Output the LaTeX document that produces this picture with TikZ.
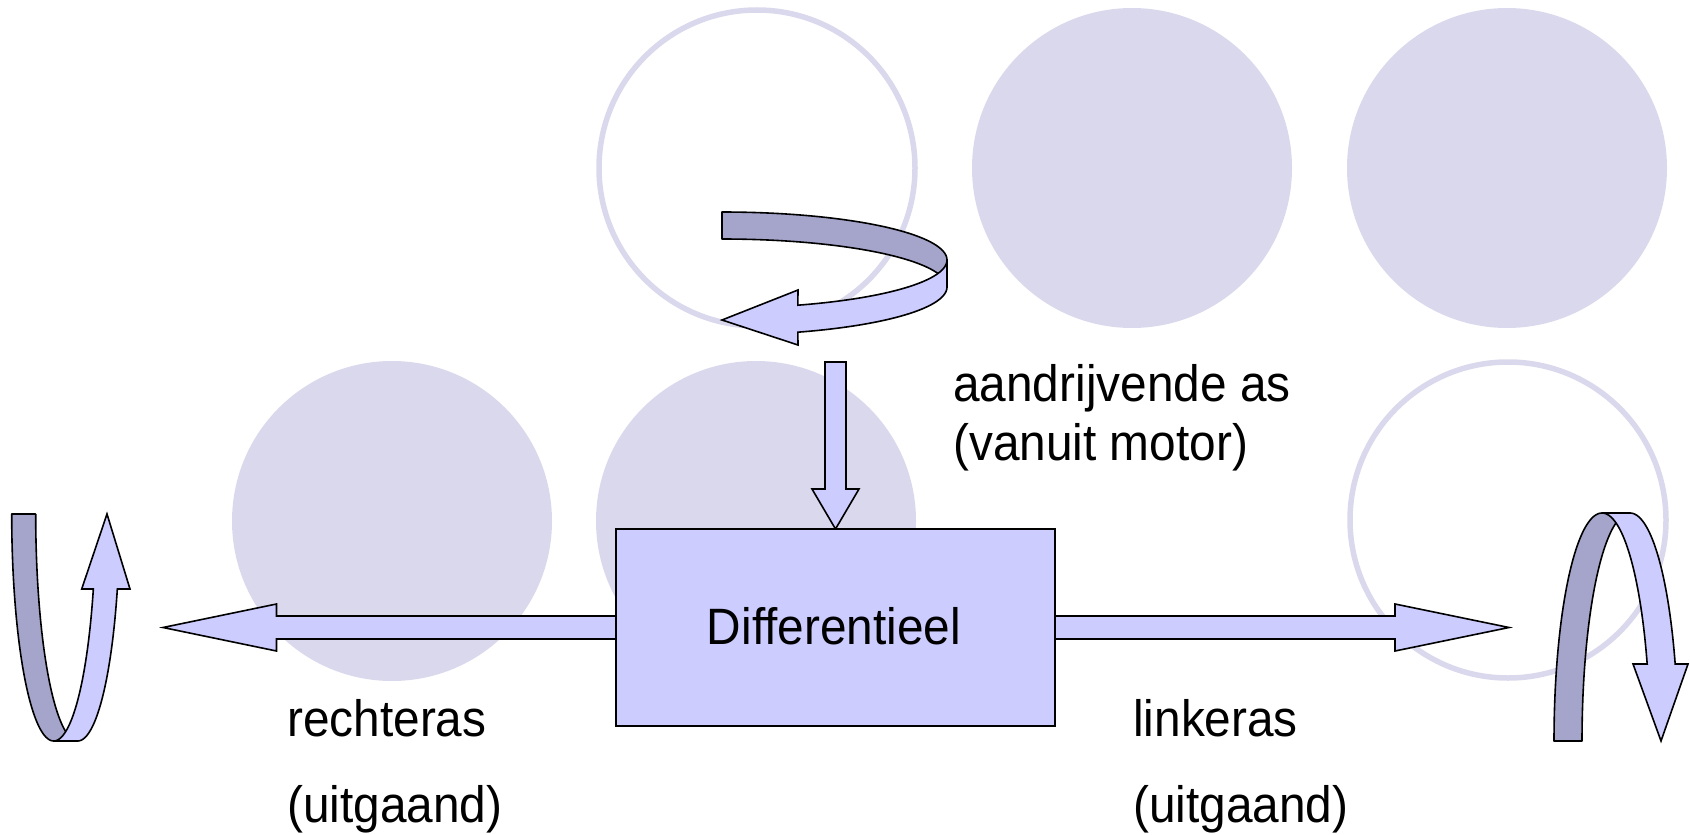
\documentclass[tikz,border=0pt]{standalone}
\usepackage{fontspec}
\usepackage{graphicx}
\setmainfont{Liberation Sans}
\usetikzlibrary{calc}
\definecolor{circfill}{RGB}{218,216,236}
\definecolor{lightband}{RGB}{204,204,255}
\definecolor{darkband}{RGB}{165,165,204}
\newcommand\tallText[1]{\scalebox{1}[1.07]{#1}}
\begin{document}
\begin{tikzpicture}[x=1pt,y=-1pt,
  filledc/.style={fill=circfill},
  ringc/.style={draw=circfill,line width=5.5pt},
  block/.style={fill=lightband,draw=black,line width=1.6pt,line join=miter},
  backband/.style={fill=darkband,draw=black,line width=1.6pt,line join=round},
  frontband/.style={fill=lightband,draw=black,line width=1.6pt,line join=miter},
  lbl/.style={font=\fontsize{47.8}{56}\selectfont,inner sep=0pt,anchor=base west}]
\useasboundingbox (0,0) rectangle (1690,835);
% background circles
\path[ringc] (757,168) circle[radius=158pt];
\path[filledc] (1132,168) circle[radius=160pt];
\path[filledc] (1507,168) circle[radius=160pt];
\path[filledc] (392,521) circle[radius=160pt];
\path[filledc] (756,521) circle[radius=160pt];
\path[ringc] (1508,520) circle[radius=158pt];
% top curved arrow (drive shaft rotation)
\draw[backband] plot[domain=90:0,samples=50] ({722+225*cos(\x)},{260-48*sin(\x)})
  -- (947,287) -- plot[domain=0:90,samples=50] ({722+225*cos(\x)},{287-48*sin(\x)}) -- cycle;
\draw[frontband] plot[domain=0:-70.3,samples=50] ({722+225*cos(\x)},{260-48*sin(\x)})
  -- (798,290) -- (722,320) -- (798,345)
  -- plot[domain=-70.3:0,samples=50] ({722+225*cos(\x)},{287-48*sin(\x)}) -- cycle;
% left curved arrow
\draw[backband] plot[domain=180:90,samples=50] ({53.7+42*cos(\x)},{514+227*sin(\x)})
  -- plot[domain=90:180,samples=50] ({77.7+42*cos(\x)},{514+227*sin(\x)}) -- cycle;
\draw[frontband] plot[domain=90:19.3,samples=50] ({53.7+42*cos(\x)},{514+227*sin(\x)})
  -- (81.7,589) -- (107,514) -- (130,589)
  -- plot[domain=19.3:90,samples=50] ({77.7+42*cos(\x)},{514+227*sin(\x)}) -- cycle;
% right curved arrow
\draw[backband] plot[domain=180:90,samples=50] ({1602+48*cos(\x)},{741-228*sin(\x)})
  -- plot[domain=90:180,samples=50] ({1630+48*cos(\x)},{741-228*sin(\x)}) -- cycle;
\draw[frontband] plot[domain=90:19.74,samples=50] ({1602+48*cos(\x)},{741-228*sin(\x)})
  -- (1633,664) -- (1661,741) -- (1688,664)
  -- plot[domain=19.74:90,samples=50] ({1630+48*cos(\x)},{741-228*sin(\x)}) -- cycle;
% reference coordinates
\path (835.5,627.5) coordinate (dc);
\coordinate (ltip) at (163,627.5);
\coordinate (rtip) at (1509,627.5);
\coordinate (dtop) at (835.5,362);
% block arrows
\draw[block] (616,616) -- (276.5,616) -- (276.5,604) -- (ltip) -- (276.5,651) -- (276.5,639) -- (616,639);
\draw[block] (1055,616) -- (1395,616) -- (1395,604) -- (rtip) -- (1395,651) -- (1395,639) -- (1055,639);
\draw[block] ($(dtop)+(-10.5,0)$) -- (825,489) -- (812,489) -- (835.5,529) -- (859,489) -- (846,489) -- ($(dtop)+(10.5,0)$) -- cycle;
\node[block,minimum width=439pt,minimum height=197pt,inner sep=0pt,outer sep=0pt] (diff) at (dc) {};
\node[lbl,anchor=base] (difftext) at (834,644) {\tallText{Differentieel}};
% labels
\node[lbl] (drive1) at (953,401.7) {\tallText{aandrijvende as}};
\node[lbl] (drive2) at (953,460) {\tallText{(vanuit motor)}};
\node[lbl] (right1) at (287,736.7) {\tallText{rechteras}};
\node[lbl] (right2) at (287,822) {\tallText{(uitgaand)}};
\node[lbl] (left1) at (1133,736.7) {\tallText{linkeras}};
\node[lbl] (left2) at (1133,822) {\tallText{(uitgaand)}};
\end{tikzpicture}
\end{document}
